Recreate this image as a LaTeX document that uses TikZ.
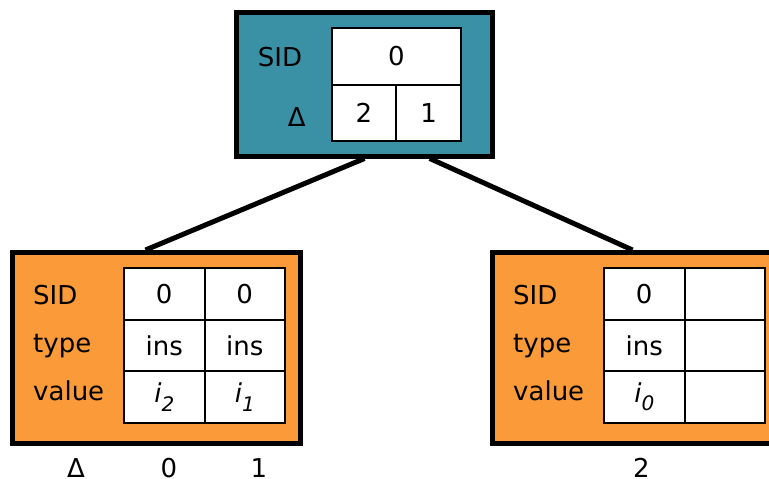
\documentclass[tikz,border=0pt]{standalone}
\usepackage{fontspec}
\setmainfont{DejaVu Sans}
\usetikzlibrary{calc}

\definecolor{rootteal}{RGB}{58,145,166}
\definecolor{leaforange}{RGB}{250,154,56}

% italic value with lowered index
\newcommand{\lowidx}[2]{\textit{#1\raisebox{-0.32em}{\fontsize{20}{20}\selectfont #2}}}

\begin{document}
\begin{tikzpicture}
	[x=1pt,y=-1pt,
		font=\fontsize{26}{30}\selectfont,
		rootbox/.style	={rectangle, draw, line width=5pt, fill=rootteal,
									inner sep=0pt, minimum width=256pt, minimum height=143.5pt},
		leafbox/.style	={rectangle, draw, line width=5pt, fill=leaforange,
									inner sep=0pt, minimum width=288pt, minimum height=190.5pt},
		cell/.style		={rectangle, draw, line width=2pt, fill=white,
									inner sep=0pt, minimum width=80.5pt, minimum height=51.5pt},
		rowlabel/.style	={anchor=base west, inner sep=0pt},
		poslabel/.style	={inner sep=0pt},
		edge/.style		={draw, line width=5pt}
	]
\useasboundingbox (0,0) rectangle (769,479);

% root
\node [rootbox] (root) at (364.5,84.25) {};
\node [cell, minimum width=129.3pt, minimum height=57.3pt] (root sid) at (396.3,56.4) {0};
\node [cell, minimum width=64.6pt, minimum height=56pt] (root d1) at (364,113) {2};
\node [cell, minimum width=64.6pt, minimum height=56pt] (root d2) at (428.7,113) {1};
\node [poslabel] (root sid label) at (280,56.7) {SID};
\node [poslabel] (root delta label) at (296.7,117) {Δ};

% left leaf
\node [leafbox] (lchild) at (156.5,347.75) {};
\node [rowlabel] (l sid label) at (33,304) {SID};
\node [rowlabel] (l type label) at (33,352) {type};
\node [rowlabel] (l value label) at (33,400) {value};
	% row 1
	\node [cell] (l sid 1) at (164.25,294.05) {0};
	\node [cell] (l sid 2) at (244.75,294.05) {0};
	% row 2
	\node [cell] (l type 1) at (164.25,345.55) {ins};
	\node [cell] (l type 2) at (244.75,345.55) {ins};
	% row 3
	\node [cell] (l value 1) at (164.25,397.05) {\lowidx{i}{2}};
	\node [cell] (l value 2) at (244.75,397.05) {\lowidx{i}{1}};
\node [poslabel] (l delta) at (76,468) {Δ};
\node [poslabel] (l pos 1) at (169,468) {0};
\node [poslabel] (l pos 2) at (259,468) {1};

% right leaf
\node [leafbox] (rchild) at (636.5,347.75) {};
\node [rowlabel] (r sid label) at (513,304) {SID};
\node [rowlabel] (r type label) at (513,352) {type};
\node [rowlabel] (r value label) at (513,400) {value};
	% row 1
	\node [cell] (r sid 1) at (644.25,294.05) {0};
	\node [cell] (r sid 2) at (724.75,294.05) {};
	% row 2
	\node [cell] (r type 1) at (644.25,345.55) {ins};
	\node [cell] (r type 2) at (724.75,345.55) {};
	% row 3
	\node [cell] (r value 1) at (644.25,397.05) {\lowidx{i}{0}};
	\node [cell] (r value 2) at (724.75,397.05) {};
\node [poslabel] (r pos 1) at (641.5,468) {2};

\begin{scope}[every path/.style=edge]
	\path	(root.south)	-- ([xshift=-11pt]lchild.north);
	\path	($(root.south)!0.5!(root.south east)$)	-- ([xshift=-4pt]rchild.north);
\end{scope}
\end{tikzpicture}
\end{document}
